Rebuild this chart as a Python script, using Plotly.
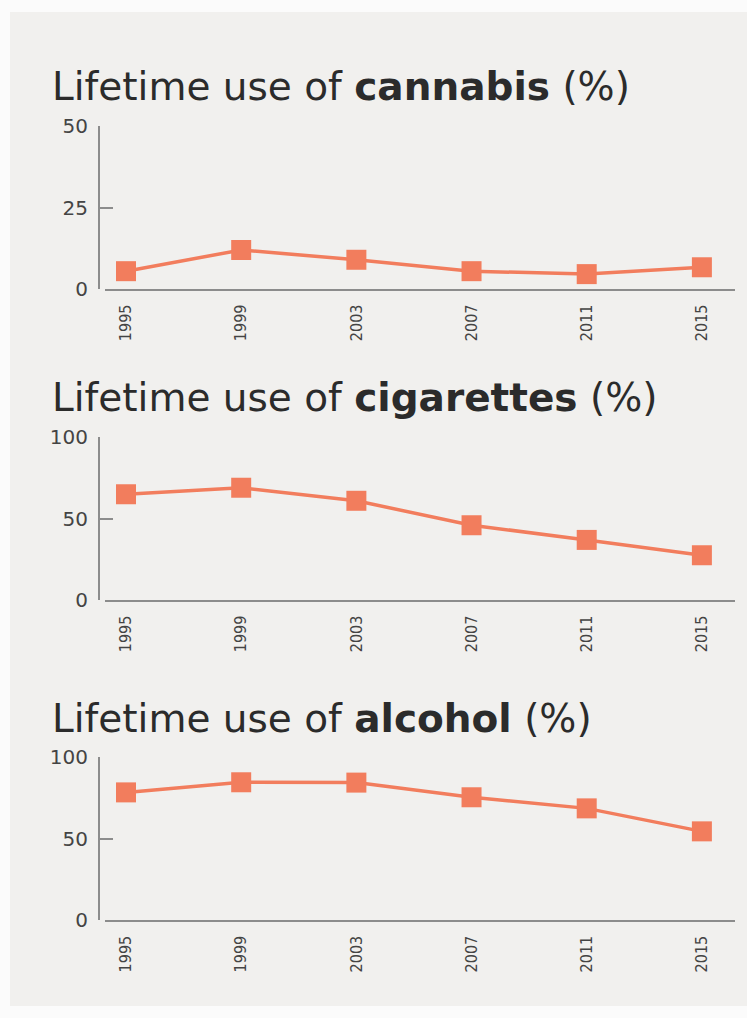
import plotly.graph_objects as go

# ---- data ----
years = [1995, 1999, 2003, 2007, 2011, 2015]
year_labels = ["1995", "1999", "2003", "2007", "2011", "2015"]
cannabis = [5.5, 12, 9, 5.5, 4.6, 6.7]
cigarettes = [65, 69, 61, 46, 37, 27.6]
alcohol = [78.5, 84.7, 84.5, 75.5, 68.7, 54.6]
substances = ["cannabis", "cigarettes", "alcohol"]
y_max = [50, 100, 100]
y_tick_values = [[0, 25, 50], [0, 50, 100], [0, 50, 100]]

series = [cannabis, cigarettes, alcohol]

W, H = 747, 1018
LINE_COLOR = "#f27d5d"
AXIS_COLOR = "#8c8c8c"
TICK_COLOR = "#444444"
PANEL_BG = "#f1f0ee"

# the photographed page maps figure pixel y -> 0.976*y + 12; undo that
SCALE_Y, OFF_Y = 0.976, 12.0


def py(px):
    """paper y fraction for a wanted on-screen pixel row"""
    return 1 - ((px - OFF_Y) / SCALE_Y) / H


# wanted on-screen pixel layout of each panel: (top of y range, zero line)
panel_px = [(126, 289), (437, 600), (757, 920)]
title_px = [86, 397, 718]
x_left_px, x_right_px, yaxis_px = 105, 735, 99

fig = go.Figure()

for i, (name, vals) in enumerate(zip(substances, series)):
    n = "" if i == 0 else str(i + 1)
    fig.add_trace(go.Scatter(
        x=years, y=vals, mode="lines+markers",
        xaxis="x" + n, yaxis="y" + n,
        line=dict(color=LINE_COLOR, width=3.5),
        marker=dict(symbol="square", size=20, color=LINE_COLOR),
        cliponaxis=False, showlegend=False, hoverinfo="x+y",
    ))
    top, bot = panel_px[i]
    fig.layout["xaxis" + n] = dict(
        domain=[x_left_px / W, x_right_px / W],
        range=[1994.27, 2016.15],
        anchor="y" + n,
        tickmode="array", tickvals=years, ticktext=year_labels,
        tickangle=-90, ticks="", showgrid=False, zeroline=False,
        showline=True, linecolor=AXIS_COLOR, linewidth=2,
        tickfont=dict(family="DejaVu Sans Condensed, DejaVu Sans", size=16, color=TICK_COLOR),
        ticklabelstandoff=7,
        fixedrange=True,
    )
    fig.layout["yaxis" + n] = dict(
        domain=[py(bot), py(top)],
        range=[0, y_max[i]],
        anchor="free", position=yaxis_px / W,
        tickmode="array", tickvals=y_tick_values[i],
        ticks="inside", ticklen=13, tickwidth=2, tickcolor=AXIS_COLOR,
        showgrid=False, zeroline=False,
        showline=True, linecolor=AXIS_COLOR, linewidth=2,
        tickfont=dict(family="DejaVu Sans", size=20, color=TICK_COLOR),
        ticklabelstandoff=6,
        fixedrange=True,
    )
    fig.add_annotation(
        xref="paper", yref="paper", x=50 / W, y=py(title_px[i]),
        xanchor="left", yanchor="middle", showarrow=False,
        text=f"Lifetime use of <b>{name}</b> (%)",
        font=dict(family="DejaVu Sans", size=39, color="#2b2b2b"),
    )

# light panel background
fig.add_shape(type="rect", xref="paper", yref="paper",
              x0=10 / W, x1=1, y0=0, y1=1,
              fillcolor=PANEL_BG, line=dict(width=0), layer="below")

fig.update_layout(
    width=W, height=H,
    margin=dict(l=0, r=0, t=0, b=0),
    paper_bgcolor="#fbfbfb",
    plot_bgcolor="rgba(0,0,0,0)",
)

fig.write_html(
    "out.html",
    config={"displayModeBar": False},
    post_script=(
        "document.documentElement.style.margin='0';"
        "document.body.style.margin='0';"
        "document.body.style.overflow='hidden';"
        "document.documentElement.style.background="
        "'linear-gradient(to right, #fbfbfb 10px, transparent 10px),"
        "linear-gradient(to bottom, #fbfbfb 10px, " + PANEL_BG + " 10px)';"
    ),
)
